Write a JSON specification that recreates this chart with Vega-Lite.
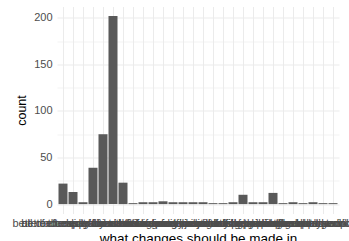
{
  "$schema": "https://vega.github.io/schema/vega-lite/v6.json",
  "width": 282,
  "height": 207,
  "autosize": "none",
  "padding": {"left": 57, "top": 6.5, "right": 10, "bottom": 28},
  "background": "white",
  "config": {
    "view": {"stroke": null},
    "font": "Liberation Sans"
  },
  "data": {
    "values": [
      {"answer": "all of them, really", "count": 22},
      {"answer": "better access to services", "count": 13},
      {"answer": "better funding for schools", "count": 2},
      {"answer": "better pay for workers", "count": 39},
      {"answer": "cheaper costs of living", "count": 75},
      {"answer": "don't know / not sure", "count": 202},
      {"answer": "education and training", "count": 23},
      {"answer": "equal access for everyone", "count": 1},
      {"answer": "fairer taxes for families", "count": 2},
      {"answer": "free tuition for students", "count": 2},
      {"answer": "healthcare and hospitals", "count": 3},
      {"answer": "housing policy and rents", "count": 2},
      {"answer": "less bureaucracy in offices", "count": 2},
      {"answer": "less tax on small business", "count": 2},
      {"answer": "lower prices in shops", "count": 2},
      {"answer": "more funding for the police", "count": 1},
      {"answer": "more jobs for young people", "count": 1},
      {"answer": "more staff in hospitals", "count": 2},
      {"answer": "more teachers in schools", "count": 10},
      {"answer": "no changes are needed", "count": 2},
      {"answer": "none of the above apply", "count": 2},
      {"answer": "nothing should be changed", "count": 12},
      {"answer": "other changes not listed", "count": 1},
      {"answer": "pensions for older people", "count": 2},
      {"answer": "public transport services", "count": 1},
      {"answer": "safety rules at work sites", "count": 2},
      {"answer": "smaller classes in schools", "count": 1},
      {"answer": "wages and working hours", "count": 1}
    ]
  },
  "mark": {"type": "bar", "color": "#595959"},
  "encoding": {
    "x": {
      "field": "answer",
      "type": "nominal",
      "sort": null,
      "scale": {"paddingInner": 0.1, "paddingOuter": 0.15},
      "axis": {
        "title": "what changes should be made in",
        "titleFontSize": 13.5,
        "titleFontWeight": "normal",
        "titleColor": "black",
        "titlePadding": 3,
        "labelAngle": 0,
        "labelFontSize": 11,
        "labelColor": "#4D4D4D",
        "labelOverlap": false,
        "labelLimit": 0,
        "labelPadding": 4,
        "ticks": false,
        "domain": false,
        "grid": true,
        "bandPosition": 0.5,
        "gridColor": "#EBEBEB",
        "gridWidth": 1
      }
    },
    "y": {
      "field": "count",
      "type": "quantitative",
      "scale": {"domain": [-10.1, 212.1], "nice": false, "zero": false},
      "axis": {
        "title": "count",
        "titleFontSize": 12.5,
        "titleFontWeight": "normal",
        "titleColor": "black",
        "titlePadding": 5,
        "values": [0, 25, 50, 75, 100, 125, 150, 175, 200],
        "labelExpr": "datum.value % 50 === 0 ? datum.label : ''",
        "labelFontSize": 11,
        "labelColor": "#4D4D4D",
        "labelPadding": 5,
        "ticks": false,
        "domain": false,
        "grid": true,
        "gridColor": "#EBEBEB",
        "gridWidth": {"condition": {"test": "datum.value % 50 === 0", "value": 1}, "value": 0.6}
      }
    }
  }
}
